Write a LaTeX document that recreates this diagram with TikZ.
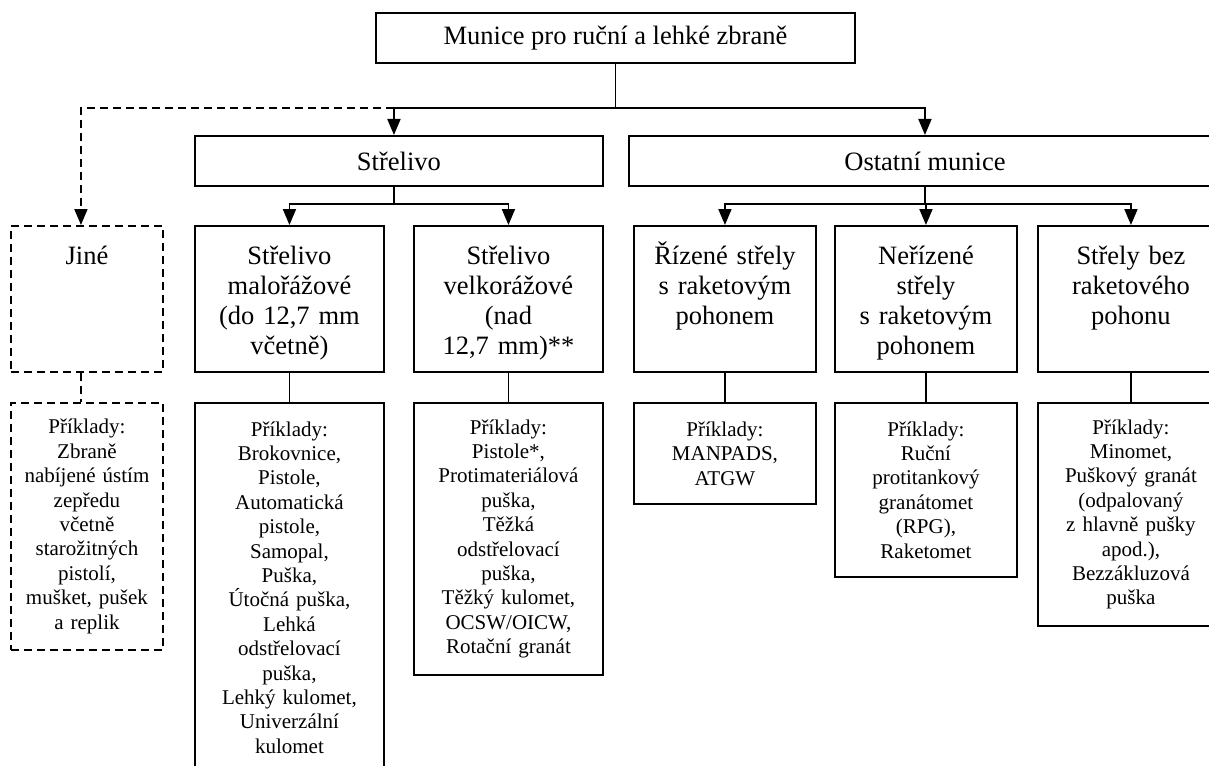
\documentclass[tikz,border=0pt]{standalone}
\usepackage{fontspec}
\setmainfont{Liberation Serif}
\usetikzlibrary{arrows.meta}

\tikzset{
  box/.style={draw, line width=0.95pt, inner sep=0pt, anchor=north west, align=center},
  topbox/.style={box, font=\fontsize{13.25}{15}\selectfont, minimum height=25pt},
  catbox/.style={box, font=\fontsize{13.25}{15}\selectfont, text width=#1,
    text height=19.4pt, text depth=53.6pt},
  exbox/.style={box, font=\fontsize{10.5}{12.2}\selectfont, text width=#1},
  opt/.style={dash pattern=on 4pt off 2.5pt},
  link/.style={line width=0.95pt},
  arr/.style={link, -{Triangle[length=8pt,width=6.5pt]}}
}

\begin{document}
\begin{tikzpicture}[x=0.5pt,y=-0.5pt]
  \useasboundingbox (0,0) rectangle (1209,765);
  \clip (0,0) rectangle (1209,765);

  % hlavni uroven
  \node[topbox, minimum width=239.5pt] (munice) at (375,12) {Munice pro ruční a lehké zbraně};
  \node[topbox, minimum width=204pt] (strelivo) at (194,135) {Střelivo};
  \node[topbox, minimum width=296pt] (ostatni) at (628,135) {Ostatní munice};

  % kategorie
  \node[catbox=76pt, opt] (jine) at (10,225) {Jiné};
  \node[catbox=94.5pt] (malo) at (194,225) {Střelivo\\ malořážové\\ (do 12,7 mm\\ včetně)};
  \node[catbox=94.5pt] (velko) at (413,225) {Střelivo\\ velkorážové\\ (nad\\ 12,7 mm)**};
  \node[catbox=91pt] (rizene) at (633,225) {Řízené střely\\ s~raketovým\\ pohonem};
  \node[catbox=91pt] (nerizene) at (834,225) {Neřízené\\ střely\\ s~raketovým\\ pohonem};
  \node[catbox=93pt] (bez) at (1037,225) {Střely bez\\ raketového\\ pohonu};

  % priklady
  \node[exbox=76pt, opt, minimum height=123.5pt] (jineex) at (10,402)
    {Příklady:\\ Zbraně\\ nabíjené ústím\\ zepředu\\ včetně\\ starožitných\\ pistolí,\\ mušket, pušek\\ a~replik};
  \node[exbox=94.5pt, minimum height=184.5pt] (maloex) at (194,402)
    {Příklady:\\ Brokovnice,\\ Pistole,\\ Automatická\\ pistole,\\ Samopal,\\ Puška,\\ Útočná puška,\\ Lehká\\ odstřelovací\\ puška,\\ Lehký kulomet,\\ Univerzální\\ kulomet};
  \node[exbox=94.5pt, minimum height=136pt] (velkoex) at (413,402)
    {Příklady:\\ Pistole*,\\ Protimateriálová\\ puška,\\ Těžká\\ odstřelovací\\ puška,\\ Těžký kulomet,\\ OCSW/OICW,\\ Rotační granát};
  \node[exbox=91pt, minimum height=50.5pt] (rizeneex) at (633,402)
    {Příklady:\\ MANPADS,\\ ATGW};
  \node[exbox=91pt, minimum height=87pt] (nerizeneex) at (834,402)
    {Příklady:\\ Ruční\\ protitankový\\ granátomet\\ (RPG),\\ Raketomet};
  \node[exbox=93pt, minimum height=111.5pt] (bezex) at (1037,402)
    {Příklady:\\ Minomet,\\ Puškový granát\\ (odpalovaný\\ z~hlavně pušky\\ apod.),\\ Bezzákluzová\\ puška};

  % spojnice
  \coordinate (sn) at ([xshift=-2.5pt]strelivo.north);
  \coordinate (ss) at ([xshift=-2.5pt]strelivo.south);
  \coordinate (jn) at ([xshift=-3pt]jine.north);
  \coordinate (js) at ([xshift=-3pt]jine.south);
  \coordinate (jx) at ([xshift=-3pt]jineex.north);

  \draw[link] (munice.south) -- ++(0,44) coordinate (j1);
  \draw[arr] (j1) -| (sn);
  \draw[arr] (j1) -| (ostatni.north);
  \draw[arr, opt] (j1 -| sn) -| (jn);

  \draw[link] (ss) -- ++(0,17) coordinate (j2);
  \draw[arr] (j2) -| (malo.north);
  \draw[arr] (j2) -| (velko.north);

  \draw[link] (ostatni.south) -- ++(0,17) coordinate (j3);
  \draw[arr] (j3) -| (rizene.north);
  \draw[arr] (j3) -| (nerizene.north);
  \draw[arr] (j3) -| (bez.north);

  \draw[link, opt] (js) -- (jx);
  \draw[link] (malo.south) -- (maloex.north);
  \draw[link] (velko.south) -- (velkoex.north);
  \draw[link] (rizene.south) -- (rizeneex.north);
  \draw[link] (nerizene.south) -- (nerizeneex.north);
  \draw[link] (bez.south) -- (bezex.north);
\end{tikzpicture}
\end{document}
